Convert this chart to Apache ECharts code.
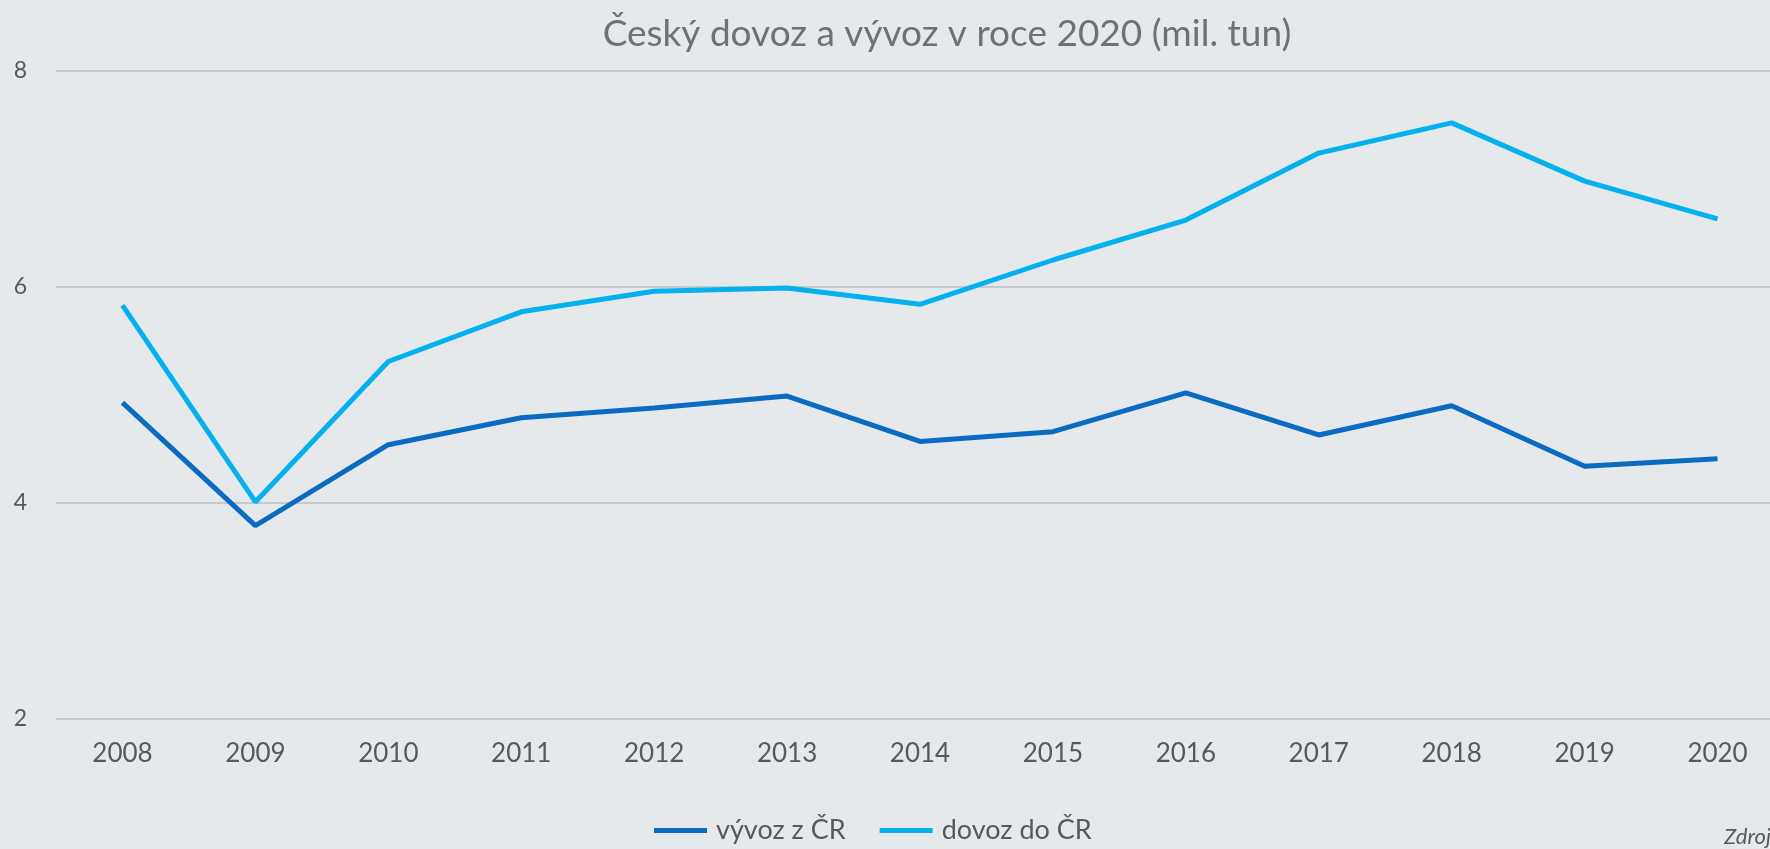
<!DOCTYPE html>
<html>
<head>
<meta charset="utf-8">
<script src="https://cdn.jsdelivr.net/npm/echarts@6/dist/echarts.min.js"></script>
<style>
  html, body { margin: 0; padding: 0; background: #e6e9ec; }
  #chart { width: 1770px; height: 849px; }
</style>
</head>
<body>
<div id="chart"></div>
<script>
const years = ['2008', '2009', '2010', '2011', '2012', '2013', '2014', '2015', '2016', '2017', '2018', '2019', '2020']
const vyvoz = [4.93, 3.79, 4.54, 4.79, 4.88, 4.99, 4.57, 4.66, 5.02, 4.63, 4.90, 4.34, 4.41]
const dovoz = [5.83, 4.01, 5.31, 5.77, 5.96, 5.99, 5.84, 6.25, 6.62, 7.24, 7.52, 6.98, 6.63]

const font = 'Lato, "Noto Sans", sans-serif'

const chart = echarts.init(document.getElementById('chart'))

chart.setOption({
  backgroundColor: '#e6e9ec',
  animation: false,
  title: {
    text: 'Český dovoz a vývoz v roce 2020 (mil. tun)',
    left: 942,
    top: 11,
    textAlign: 'center',
    textStyle: { color: '#707078', fontSize: 37, fontWeight: 'normal', fontFamily: font },
  },
  grid: { top: 71, bottom: 130, left: 56, right: -14, outerBoundsMode: 'none', containLabel: false },
  legend: {
    bottom: 0,
    left: 649,
    icon: 'rect',
    itemWidth: 53,
    itemHeight: 5,
    itemGap: 34,
    textStyle: { color: '#595959', fontSize: 27, fontFamily: font, padding: [0, 0, 0, 4] },
    data: ['vývoz z ČR', 'dovoz do ČR'],
  },
  xAxis: {
    type: 'category',
    data: years,
    boundaryGap: true,
    axisLine: { show: false },
    axisTick: { show: false },
    axisLabel: { color: '#595959', fontSize: 26, fontFamily: font, margin: 22 },
  },
  yAxis: {
    type: 'value',
    min: 2,
    max: 8,
    interval: 2,
    axisLine: { show: false },
    axisTick: { show: false },
    splitLine: { lineStyle: { color: '#bcbcbc', width: 1.5 } },
    axisLabel: { color: '#595959', fontSize: 23, fontFamily: font, margin: 29 },
  },
  graphic: [
    {
      type: 'text',
      left: 1724,
      top: 826,
      style: { text: 'Zdroj:', fill: '#595959', font: 'italic 22px ' + font },
    },
  ],
  series: [
    {
      name: 'vývoz z ČR',
      type: 'line',
      data: vyvoz,
      symbol: 'none',
      lineStyle: { color: '#0b6ac1', width: 5 },
      itemStyle: { color: '#0b6ac1' },
    },
    {
      name: 'dovoz do ČR',
      type: 'line',
      data: dovoz,
      symbol: 'none',
      lineStyle: { color: '#05b0ee', width: 5 },
      itemStyle: { color: '#05b0ee' },
    },
  ],
})

window.addEventListener('resize', () => chart.resize())
</script>
</body>
</html>
